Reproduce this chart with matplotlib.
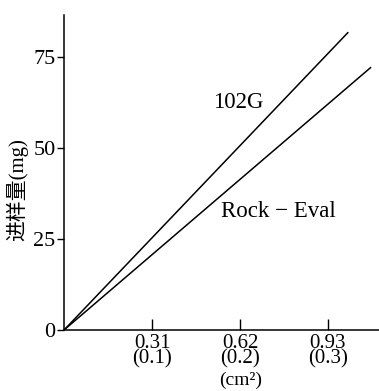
import matplotlib
matplotlib.use("Agg")
import matplotlib.pyplot as plt

plt.rcParams['font.family'] = ['Liberation Serif', 'Noto Sans CJK SC']

# data: (area, amount) end points of each line
area_102g = [0.0, 1.0]
amount_102g = [0.0, 81.6]
area_re = [0.0, 1.08]
amount_re = [0.0, 72.0]

xticks = [0.31, 0.62, 0.93]
xticklabels = ['0.31\n(0.1)', '0.62\n(0.2)', '0.93\n(0.3)']
yticks = [0, 25, 50, 75]

fig = plt.figure(figsize=(3.79, 3.91), dpi=100)
ax = fig.add_axes([0.169, 0.156, 0.831, 0.806])

ax.plot(area_102g, amount_102g, color='black', lw=1.1)
ax.plot(area_re, amount_re, color='black', lw=1.1)

ax.text(0.615, 62.4, '102G', fontsize=16.5, ha='center', va='center')
ax.text(0.755, 32.4, 'Rock \u2212 Eval', fontsize=16.5, ha='center', va='center')

ax.set_xlim(0, 1.11)
ax.set_ylim(0, 86.5)
ax.spines['top'].set_visible(False)
ax.spines['right'].set_visible(False)
ax.spines['left'].set_linewidth(1.1)
ax.spines['bottom'].set_linewidth(1.1)

ax.set_xticks(xticks)
ax.set_xticklabels(xticklabels, fontsize=15, linespacing=0.74)
ax.set_yticks(yticks)
ax.set_yticklabels([str(v) for v in yticks], fontsize=16)
ax.tick_params(axis='x', direction='in', length=8, width=1, pad=3)
ax.tick_params(axis='y', direction='out', length=5, width=1, pad=1)

ax.set_ylabel('进样量(mg)', fontsize=15, labelpad=2)
ax.yaxis.set_label_coords(-0.115, 0.445)
fig.text(0.634, 0.004, '(cm\u00b2)', fontsize=14, ha='center', va='bottom')   # unit under the x ticks

fig.savefig('out.png', dpi=100)
